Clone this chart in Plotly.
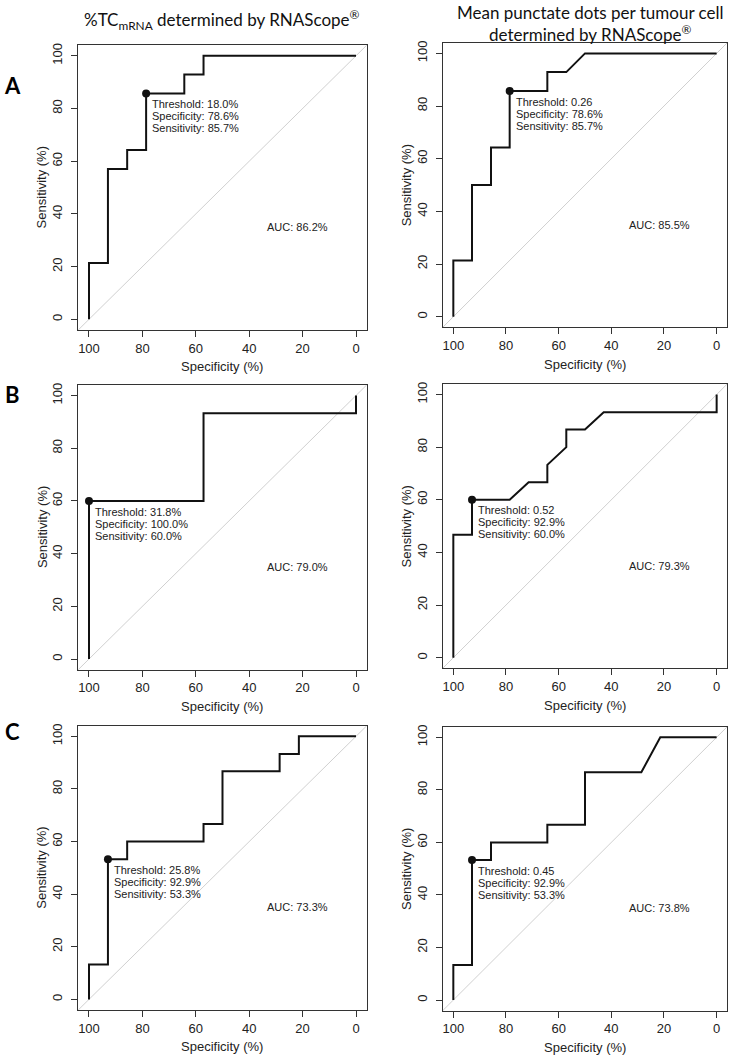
import plotly.graph_objects as go

# ---------------- data ----------------
A_TC_SPEC = [100, 100, 92.9, 92.9, 85.7, 85.7, 78.6, 78.6, 64.3, 64.3, 57.1, 57.1, 0]
A_TC_SENS = [0, 21.4, 21.4, 57.1, 57.1, 64.3, 64.3, 85.7, 85.7, 92.9, 92.9, 100, 100]

A_DOT_SPEC = [100, 100, 92.9, 92.9, 85.7, 85.7, 78.6, 78.6, 64.3, 64.3, 57.1, 50, 0]
A_DOT_SENS = [0, 21.4, 21.4, 50, 50, 64.3, 64.3, 85.7, 85.7, 92.9, 92.9, 100, 100]

B_TC_SPEC = [100, 100, 57.1, 57.1, 0, 0]
B_TC_SENS = [0, 60, 60, 93.3, 93.3, 100]

B_DOT_SPEC = [100, 100, 92.9, 92.9, 78.6, 71.4, 64.3, 64.3, 57.1, 57.1, 50, 42.9, 0, 0]
B_DOT_SENS = [0, 46.7, 46.7, 60, 60, 66.7, 66.7, 73.3, 80, 86.7, 86.7, 93.3, 93.3, 100]

C_TC_SPEC = [100, 100, 92.9, 92.9, 85.7, 85.7, 57.1, 57.1, 50, 50, 28.6, 28.6, 21.4, 21.4, 0]
C_TC_SENS = [0, 13.3, 13.3, 53.3, 53.3, 60, 60, 66.7, 66.7, 86.7, 86.7, 93.3, 93.3, 100, 100]

C_DOT_SPEC = [100, 100, 92.9, 92.9, 85.7, 85.7, 64.3, 64.3, 50, 50, 28.6, 21.4, 0]
C_DOT_SENS = [0, 13.3, 13.3, 53.3, 53.3, 60, 60, 66.7, 66.7, 86.7, 86.7, 100, 100]

BEST_SPEC = [78.6, 78.6, 100.0, 92.9, 92.9, 92.9]
BEST_SENS = [85.7, 85.7, 60.0, 60.0, 53.3, 53.3]
THRESHOLDS = ["18.0%", "0.26", "31.8%", "0.52", "25.8%", "0.45"]
AUC = [86.2, 85.5, 79.0, 79.3, 73.3, 73.8]

TICKS = [100, 80, 60, 40, 20, 0]
ROW_LABELS = ["A", "B", "C"]
LEFT_TITLE = "%TC<sub>mRNA</sub> determined by RNAScope<sup>®</sup>"
RIGHT_TITLE_LINES = ["Mean punctate dots per tumour cell",
                     "determined by RNAScope<sup>®</sup>"]

CURVES = [(A_TC_SPEC, A_TC_SENS), (A_DOT_SPEC, A_DOT_SENS),
          (B_TC_SPEC, B_TC_SENS), (B_DOT_SPEC, B_DOT_SENS),
          (C_TC_SPEC, C_TC_SENS), (C_DOT_SPEC, C_DOT_SENS)]

# ---------------- layout geometry ----------------
W, H = 729, 1055
X_DOMAINS = [[0.1074, 0.5030], [0.6074, 0.9975]]
Y_DOMAINS = [[[0.6886, 0.9589], [0.6911, 0.9612]],
             [[0.3660, 0.6363], [0.3673, 0.6372]],
             [[0.0428, 0.3126], [0.0422, 0.3117]]]
AUC_POS = (34, 35)

FONT = "Liberation Sans, Arial, sans-serif"
TFONT = "Lato, Open Sans, sans-serif"
TXT = "#222222"

fig = go.Figure()
layout = dict(width=W, height=H, margin=dict(l=0, r=0, t=0, b=0),
              paper_bgcolor="white", plot_bgcolor="white", showlegend=False)
annotations = []
shapes = []

for i, (spec, sens) in enumerate(CURVES):
    row, col = divmod(i, 2)
    n = i + 1
    xa = "x" if n == 1 else f"x{n}"
    ya = "y" if n == 1 else f"y{n}"
    axis_common = dict(showgrid=False, zeroline=False, showline=True, mirror=True,
                       linecolor="#333333", linewidth=1, ticks="outside", ticklen=6,
                       tickwidth=1, tickcolor="#333333",
                       tickfont=dict(family=FONT, size=13, color=TXT),
                       tickvals=TICKS, ticktext=[str(t) for t in TICKS])
    layout["xaxis" if n == 1 else f"xaxis{n}"] = dict(
        axis_common, domain=X_DOMAINS[col], range=[104, -4], anchor=ya)
    layout["yaxis" if n == 1 else f"yaxis{n}"] = dict(
        axis_common, domain=Y_DOMAINS[row][col], range=[-4, 104], anchor=xa,
        tickangle=-90, ticklabelstandoff=4)

    # diagonal reference line across the full plot box
    shapes.append(dict(type="line", xref=f"{xa} domain", yref=f"{ya} domain",
                       x0=0, y0=0, x1=1, y1=1, line=dict(color="#c4c4c4", width=0.8),
                       layer="below"))

    fig.add_trace(go.Scatter(x=spec, y=sens, mode="lines", xaxis=xa, yaxis=ya,
                             line=dict(color="#111111", width=2), hoverinfo="skip"))
    fig.add_trace(go.Scatter(x=[BEST_SPEC[i]], y=[BEST_SENS[i]], mode="markers",
                             xaxis=xa, yaxis=ya,
                             marker=dict(color="#111111", size=8), hoverinfo="skip"))

    lines = [f"Threshold: {THRESHOLDS[i]}",
             f"Specificity: {BEST_SPEC[i]:.1f}%",
             f"Sensitivity: {BEST_SENS[i]:.1f}%"]
    for k, t in enumerate(lines):
        annotations.append(dict(xref=xa, yref=ya, x=BEST_SPEC[i], y=BEST_SENS[i],
                                text=t, showarrow=False, xanchor="left", yanchor="middle",
                                xshift=4, yshift=-10.6 - 12 * k,
                                font=dict(family=FONT, size=11, color=TXT)))
    annotations.append(dict(xref=xa, yref=ya, x=AUC_POS[0], y=AUC_POS[1],
                            text=f"AUC: {AUC[i]:.1f}%", showarrow=False,
                            xanchor="left", yanchor="middle",
                            font=dict(family=FONT, size=11, color=TXT)))
    # axis titles
    annotations.append(dict(xref=f"{xa} domain", yref=f"{ya} domain", x=0.5, y=0,
                            text="Specificity (%)", showarrow=False, yanchor="middle",
                            yshift=-37, font=dict(family=FONT, size=13, color=TXT)))
    annotations.append(dict(xref=f"{xa} domain", yref=f"{ya} domain", x=0, y=0.5,
                            text="Sensitivity (%)", showarrow=False, xanchor="center",
                            textangle=-90, xshift=-36.5,
                            font=dict(family=FONT, size=13, color=TXT)))

# row labels
for r, lab in enumerate(ROW_LABELS):
    yc = [84, 393, 731][r]
    annotations.append(dict(xref="paper", yref="paper", x=12 / W, y=1 - yc / H,
                            text=f"<b>{lab}</b>", showarrow=False,
                            xanchor="center", yanchor="middle",
                            font=dict(family=TFONT, size=22, color="#000000")))
# column titles
annotations.append(dict(xref="paper", yref="paper", x=222 / W, y=1 - 18 / H,
                        text=LEFT_TITLE, showarrow=False, xanchor="center",
                        yanchor="middle", font=dict(family=TFONT, size=17, color="#111111")))
for k, (t, yc) in enumerate(zip(RIGHT_TITLE_LINES, [11, 32])):
    annotations.append(dict(xref="paper", yref="paper", x=590 / W, y=1 - yc / H,
                            text=t, showarrow=False, xanchor="center",
                            yanchor="middle",
                            font=dict(family=TFONT, size=17, color="#111111")))

layout["annotations"] = annotations
layout["shapes"] = shapes
fig.update_layout(**layout)
fig.write_html("out.html", config={"displayModeBar": False},
               post_script="document.body.style.margin='0';"
                           "document.body.style.overflow='hidden';")
